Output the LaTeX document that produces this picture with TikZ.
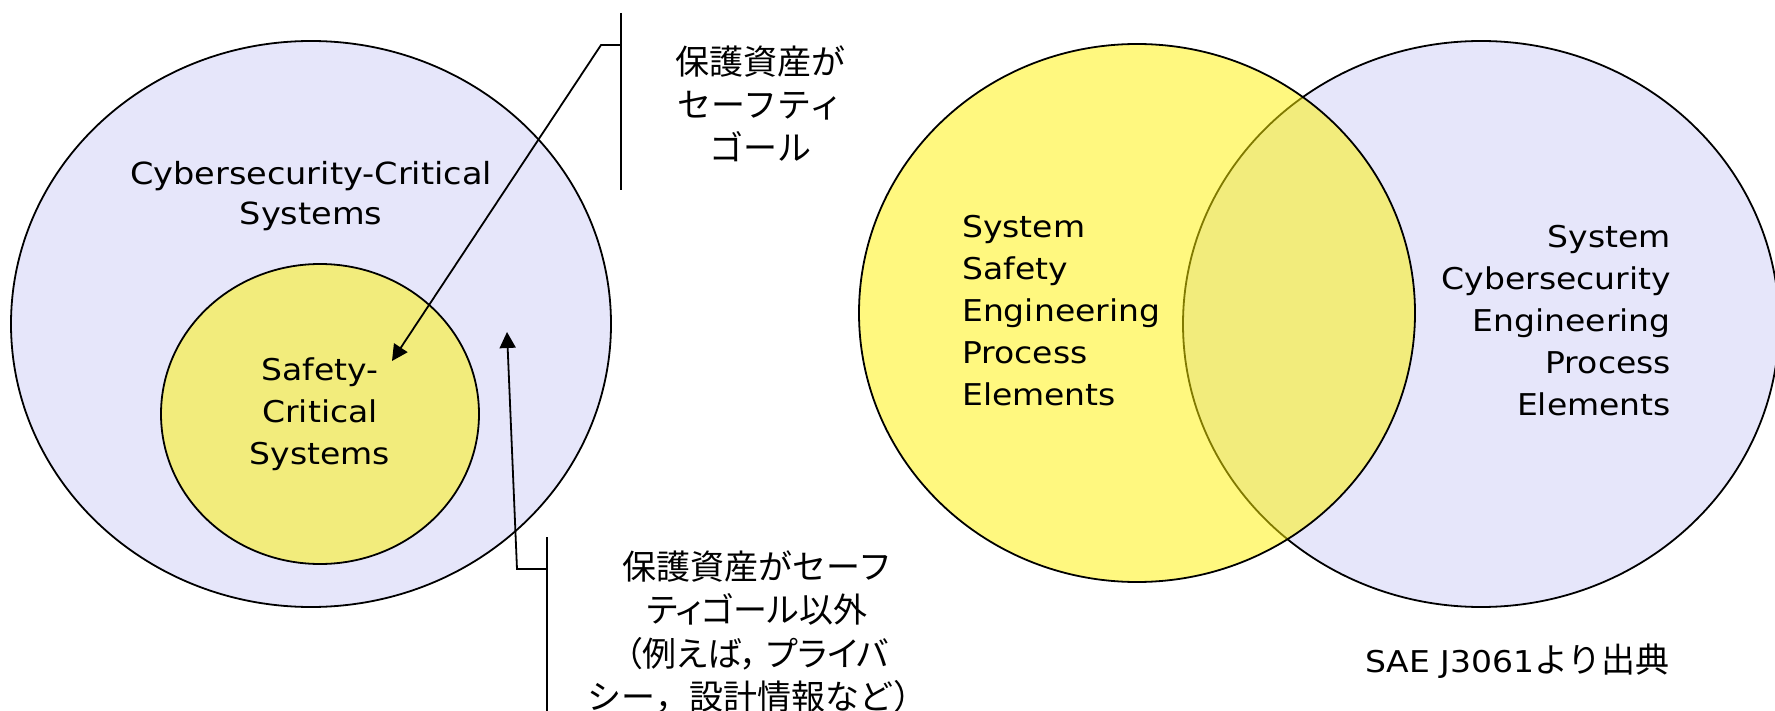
\documentclass[tikz,border=0pt]{standalone}
\usepackage{fontspec}
\newfontfamily\latfont[FakeStretch=1.1]{DejaVu Sans}
\newfontfamily\jpfont{Noto Sans CJK JP}
\newfontfamily\jppfont[RawFeature=+palt]{Noto Sans CJK JP}
\usetikzlibrary{shapes.geometric,arrows.meta}
\definecolor{lav}{RGB}{230,230,250}
\begin{document}
\begin{tikzpicture}[x=1pt,y=-1pt,
  venn/.style={ellipse, draw=black, line width=1.8pt, inner sep=0pt, outer sep=0pt},
  blueset/.style={venn, fill=lav},
  yellowset/.style={venn, fill=yellow, fill opacity=0.5, draw opacity=1},
  lbl/.style={font=\latfont\fontsize{30}{42}\selectfont, inner sep=0pt},
  jlbl/.style={font=\jpfont\fontsize{34}{43}\selectfont, align=center, inner sep=0pt},
  conn/.style={line width=1.8pt},
  arr/.style={conn, -{Triangle[length=16pt,width=16pt]}}
]
\useasboundingbox (0,0) rectangle (1775,711);
% left diagram
\node[blueset, minimum width=600pt, minimum height=566pt] (cyber) at (311,324) {};
\node[yellowset, minimum width=318pt, minimum height=300pt] (safety) at (320,414) {};
\node[lbl, align=center, font=\latfont\fontsize{30.5}{40}\selectfont] (cybertxt) at (311,196) {Cybersecurity-Critical\\Systems};
\node[lbl, align=center] (safetytxt) at (320,414.5) {Safety-\\Critical\\Systems};
% right diagram
\node[blueset, minimum width=596pt, minimum height=566pt] (cse) at (1481,324) {};
\node[yellowset, minimum width=556pt, minimum height=538pt] (sse) at (1137,313) {};
\node[lbl, align=left, anchor=west] (ssetxt) at (962,310.5) {System\\Safety\\Engineering\\Process\\Elements};
\node[lbl, align=right, anchor=east] (csetxt) at (1671,320.5) {System\\Cybersecurity\\Engineering\\Process\\Elements};
% annotations
\node[jlbl] (goal) at (760,104) {保護資産が\\セーフティ\\ゴール};
\node[jlbl, font=\jpfont\fontsize{34}{43.5}\selectfont] (nongoal) at (757,632) {保護資産がセーフ\\{\jppfont ティゴール以外}\\{\jppfont （例えば，\hspace{0.25em}プライバ}\\シー，設計情報など）};
\node[anchor=base west, inner sep=0pt] (src) at (1365,672) {{\latfont\fontsize{30}{36}\selectfont SAE J3061}{\jpfont\fontsize{34}{36}\selectfont より出典}};
% brackets and arrows
\coordinate (g1) at (621,13);
\coordinate (g2) at (621,190);
\coordinate (gc) at (621,45);
\coordinate (gk) at (601,45);
\coordinate (gt) at (392,361);
\draw[conn] (g1) -- (g2);
\draw[arr] (gc) -- (gk) -- (gt);
\coordinate (n1) at (547,537);
\coordinate (n2) at (547,715);
\coordinate (nc) at (547,569);
\coordinate (nk) at (517,569);
\coordinate (nt) at (507,332);
\draw[conn] (n1) -- (n2);
\draw[arr] (nc) -- (nk) -- (nt);
\end{tikzpicture}
\end{document}
